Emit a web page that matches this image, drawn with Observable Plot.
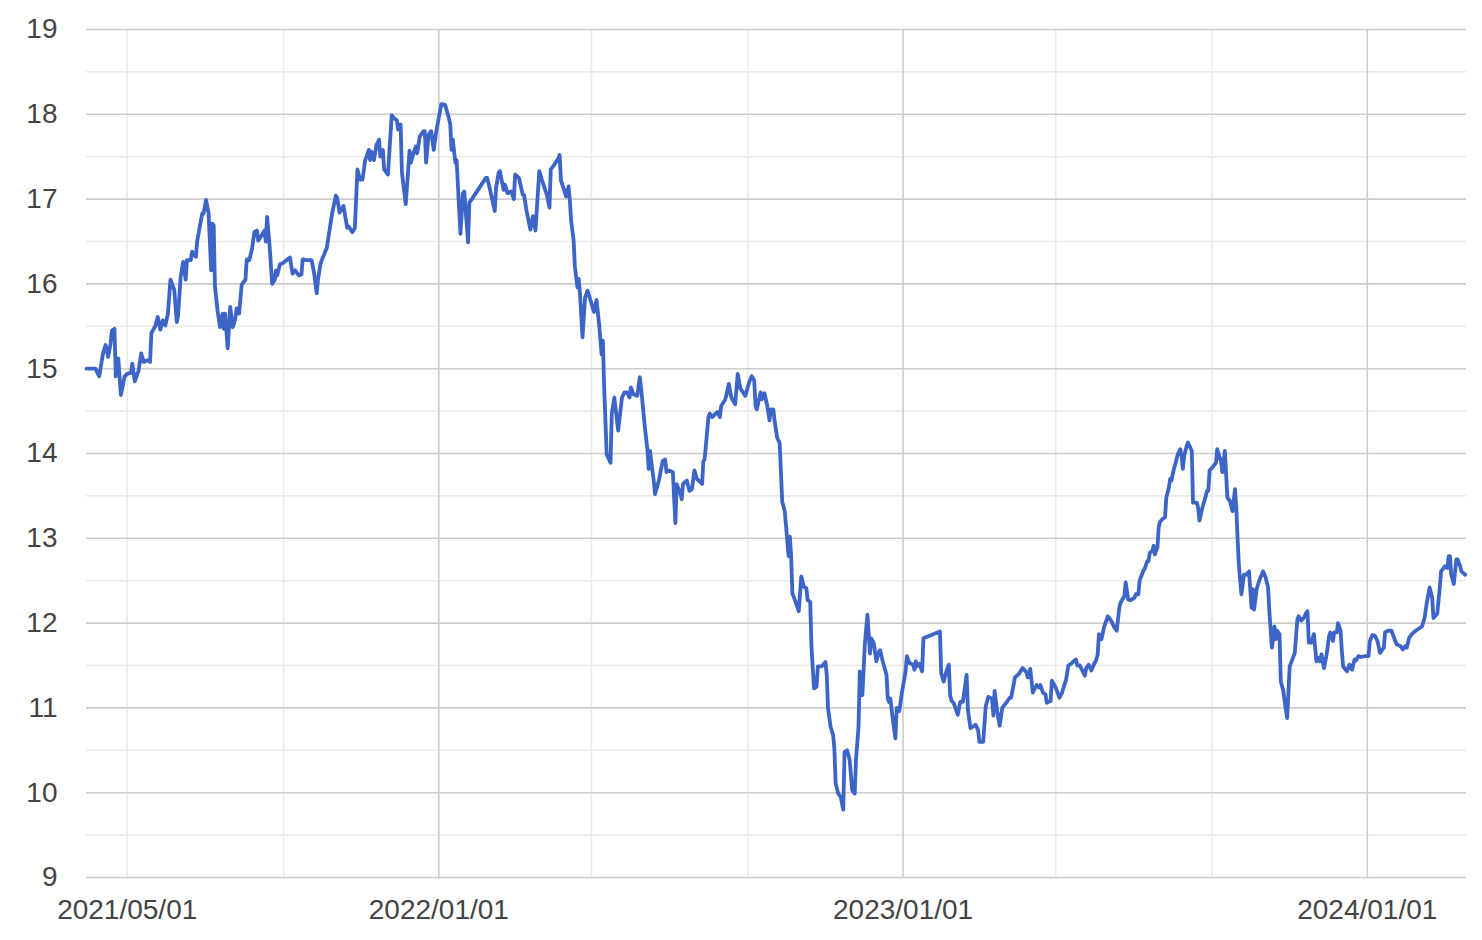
<!DOCTYPE html>
<html><head><meta charset="utf-8">
<script src="https://cdn.jsdelivr.net/npm/d3@7"></script>
<script src="https://cdn.jsdelivr.net/npm/@observablehq/plot@0.6"></script>
<style>body{margin:0;background:#fff} svg{display:block}</style>
</head><body><div id="chart"></div>
<script>
const dates = [
"2021-03-30","2021-04-06","2021-04-09","2021-04-12","2021-04-14","2021-04-16","2021-04-18","2021-04-19","2021-04-21","2021-04-22","2021-04-24","2021-04-26","2021-04-29",
"2021-05-01","2021-05-04","2021-05-05","2021-05-07","2021-05-10","2021-05-12","2021-05-14","2021-05-17","2021-05-19","2021-05-20","2021-05-23","2021-05-25","2021-05-27","2021-05-29","2021-05-31",
"2021-06-02","2021-06-04","2021-06-07","2021-06-09","2021-06-10","2021-06-12","2021-06-14","2021-06-16","2021-06-17","2021-06-20","2021-06-21","2021-06-24","2021-06-25","2021-06-27","2021-06-29","2021-06-30",
"2021-07-02","2021-07-04","2021-07-06","2021-07-07","2021-07-08","2021-07-09","2021-07-11","2021-07-13","2021-07-15","2021-07-16","2021-07-17","2021-07-19","2021-07-21","2021-07-23","2021-07-25","2021-07-26","2021-07-28","2021-07-30",
"2021-08-02","2021-08-03","2021-08-05","2021-08-07","2021-08-09","2021-08-11","2021-08-12","2021-08-15","2021-08-17","2021-08-18","2021-08-19","2021-08-21","2021-08-23","2021-08-25","2021-08-26","2021-08-27","2021-08-29","2021-08-31",
"2021-09-06","2021-09-08","2021-09-10","2021-09-13","2021-09-15","2021-09-16","2021-09-19","2021-09-23","2021-09-25","2021-09-27","2021-09-28","2021-09-30",
"2021-10-05","2021-10-06","2021-10-09","2021-10-12","2021-10-13","2021-10-15","2021-10-18","2021-10-21","2021-10-22","2021-10-25","2021-10-27","2021-10-29","2021-10-31",
"2021-11-02","2021-11-04","2021-11-07","2021-11-08","2021-11-09","2021-11-11","2021-11-13","2021-11-15","2021-11-16","2021-11-18","2021-11-19","2021-11-22","2021-11-24","2021-11-25","2021-11-27","2021-11-29","2021-11-30",
"2021-12-02","2021-12-03","2021-12-06","2021-12-09","2021-12-10","2021-12-12","2021-12-14","2021-12-15","2021-12-17","2021-12-20","2021-12-21","2021-12-22","2021-12-24","2021-12-26","2021-12-28","2021-12-30",
"2022-01-03","2022-01-06","2022-01-09","2022-01-10","2022-01-11","2022-01-12","2022-01-14","2022-01-15","2022-01-18","2022-01-20","2022-01-21","2022-01-24","2022-01-25","2022-01-27",
"2022-02-07","2022-02-08","2022-02-10","2022-02-14","2022-02-15","2022-02-17","2022-02-18","2022-02-21","2022-02-22","2022-02-24","2022-02-27",
"2022-03-01","2022-03-02","2022-03-05","2022-03-08","2022-03-09","2022-03-11","2022-03-14","2022-03-16","2022-03-18","2022-03-21","2022-03-23","2022-03-27","2022-03-29","2022-03-30",
"2022-04-02","2022-04-05","2022-04-06","2022-04-07","2022-04-09","2022-04-11","2022-04-13","2022-04-14","2022-04-15","2022-04-17","2022-04-18","2022-04-20","2022-04-21","2022-04-22","2022-04-24","2022-04-26","2022-04-28","2022-04-30",
"2022-05-03","2022-05-05","2022-05-07","2022-05-09","2022-05-10","2022-05-11","2022-05-13","2022-05-16","2022-05-17","2022-05-19","2022-05-22","2022-05-25","2022-05-27","2022-05-29","2022-05-31",
"2022-06-01","2022-06-03","2022-06-06","2022-06-08","2022-06-09","2022-06-12","2022-06-14","2022-06-15","2022-06-16","2022-06-19","2022-06-20","2022-06-23","2022-06-26","2022-06-28","2022-06-29",
"2022-07-01","2022-07-04","2022-07-06","2022-07-07","2022-07-10","2022-07-11","2022-07-12","2022-07-15","2022-07-17","2022-07-19","2022-07-21","2022-07-23","2022-07-27","2022-07-28","2022-07-29",
"2022-08-01","2022-08-02","2022-08-04","2022-08-08","2022-08-10","2022-08-11","2022-08-14","2022-08-15","2022-08-17","2022-08-19","2022-08-22","2022-08-24","2022-08-26","2022-08-30",
"2022-09-02","2022-09-04","2022-09-06","2022-09-07","2022-09-08","2022-09-11","2022-09-12","2022-09-14","2022-09-16","2022-09-18","2022-09-19","2022-09-21","2022-09-22","2022-09-24","2022-09-26","2022-09-28","2022-09-30",
"2022-10-03","2022-10-04","2022-10-05","2022-10-06","2022-10-09","2022-10-11","2022-10-13","2022-10-15","2022-10-17","2022-10-18","2022-10-20","2022-10-21","2022-10-23","2022-10-25","2022-10-26","2022-10-29",
"2022-11-01","2022-11-02","2022-11-03","2022-11-05","2022-11-07","2022-11-08","2022-11-09","2022-11-11","2022-11-13","2022-11-15","2022-11-16","2022-11-18","2022-11-20","2022-11-22","2022-11-24","2022-11-25","2022-11-27","2022-11-28","2022-11-30",
"2022-12-02","2022-12-04","2022-12-06","2022-12-07","2022-12-09","2022-12-11","2022-12-13","2022-12-14","2022-12-16","2022-12-19","2022-12-20","2022-12-21","2022-12-22","2022-12-24","2022-12-26","2022-12-27","2022-12-29","2022-12-31",
"2023-01-03","2023-01-04","2023-01-06","2023-01-09","2023-01-10","2023-01-11","2023-01-12","2023-01-14","2023-01-16","2023-01-17","2023-01-30","2023-01-31",
"2023-02-02","2023-02-04","2023-02-06","2023-02-07","2023-02-08","2023-02-10","2023-02-13","2023-02-15","2023-02-17","2023-02-20","2023-02-21","2023-02-23","2023-02-27",
"2023-03-01","2023-03-02","2023-03-05","2023-03-07","2023-03-09","2023-03-12","2023-03-13","2023-03-14","2023-03-16","2023-03-17","2023-03-18","2023-03-20","2023-03-23","2023-03-26","2023-03-27","2023-03-30",
"2023-04-02","2023-04-05","2023-04-08","2023-04-09","2023-04-11","2023-04-13","2023-04-16","2023-04-18","2023-04-19","2023-04-21","2023-04-23","2023-04-24","2023-04-27","2023-04-28",
"2023-05-01","2023-05-04","2023-05-06","2023-05-08","2023-05-09","2023-05-11","2023-05-14","2023-05-15","2023-05-17","2023-05-18","2023-05-20","2023-05-22","2023-05-24","2023-05-25","2023-05-27","2023-05-29","2023-05-31",
"2023-06-02","2023-06-03","2023-06-04","2023-06-06","2023-06-08","2023-06-11","2023-06-14","2023-06-16","2023-06-18","2023-06-20","2023-06-21","2023-06-24","2023-06-25","2023-06-27","2023-06-29",
"2023-07-02","2023-07-03","2023-07-05","2023-07-06","2023-07-09","2023-07-10","2023-07-12","2023-07-13","2023-07-14","2023-07-16","2023-07-17","2023-07-18","2023-07-20","2023-07-21","2023-07-22","2023-07-24","2023-07-26","2023-07-27","2023-07-29","2023-07-30","2023-07-31",
"2023-08-02","2023-08-03","2023-08-05","2023-08-07","2023-08-08","2023-08-09","2023-08-10","2023-08-12","2023-08-13","2023-08-16","2023-08-17","2023-08-20","2023-08-21","2023-08-22","2023-08-24","2023-08-27","2023-08-28","2023-08-29","2023-08-30",
"2023-09-02","2023-09-04","2023-09-05","2023-09-07","2023-09-08","2023-09-09","2023-09-11","2023-09-13","2023-09-15","2023-09-17","2023-09-19","2023-09-20","2023-09-21","2023-09-22","2023-09-24","2023-09-26","2023-09-28","2023-09-30",
"2023-10-02","2023-10-03","2023-10-04","2023-10-06","2023-10-08","2023-10-11","2023-10-13","2023-10-15","2023-10-16","2023-10-18","2023-10-20","2023-10-21","2023-10-22","2023-10-24","2023-10-25","2023-10-27","2023-10-28","2023-10-30",
"2023-11-01","2023-11-03","2023-11-05","2023-11-07","2023-11-08","2023-11-10","2023-11-12","2023-11-14","2023-11-15","2023-11-16","2023-11-18","2023-11-20","2023-11-22","2023-11-24","2023-11-25","2023-11-26","2023-11-28","2023-11-30",
"2023-12-02","2023-12-03","2023-12-05","2023-12-06","2023-12-08","2023-12-09","2023-12-11","2023-12-12","2023-12-13","2023-12-16","2023-12-18","2023-12-20","2023-12-22","2023-12-23","2023-12-25","2023-12-27","2023-12-30",
"2024-01-02","2024-01-03","2024-01-05","2024-01-07","2024-01-09","2024-01-11","2024-01-12","2024-01-14","2024-01-15","2024-01-17","2024-01-20","2024-01-22","2024-01-24","2024-01-27","2024-01-29","2024-01-31",
"2024-02-01","2024-02-03","2024-02-05","2024-02-08","2024-02-13","2024-02-15","2024-02-17","2024-02-19","2024-02-21","2024-02-22","2024-02-25","2024-02-27","2024-02-28",
"2024-03-02","2024-03-04","2024-03-05","2024-03-06","2024-03-07","2024-03-09","2024-03-11","2024-03-12","2024-03-14","2024-03-15","2024-03-18"
];
const prices = [
15.00,15.00,14.91,15.18,15.28,15.14,15.30,15.45,15.47,14.91,15.12,14.69,14.91,
14.94,14.95,15.06,14.85,14.98,15.18,15.08,15.10,15.08,15.42,15.50,15.61,15.46,15.57,15.51,
15.65,16.05,15.93,15.55,15.63,16.08,16.26,16.05,16.28,16.28,16.38,16.32,16.50,16.67,16.83,16.83,
16.99,16.83,16.16,16.71,16.69,15.97,15.69,15.49,15.65,15.47,15.65,15.24,15.73,15.49,15.59,15.71,15.65,15.99,
16.05,16.29,16.28,16.40,16.61,16.63,16.51,16.58,16.63,16.50,16.79,16.44,16.00,16.05,16.16,16.10,16.23,16.24,
16.31,16.12,16.16,16.10,16.11,16.29,16.28,16.28,16.12,15.89,16.05,16.24,
16.43,16.53,16.82,17.04,17.02,16.84,16.92,16.66,16.68,16.61,16.66,17.35,17.23,
17.23,17.45,17.58,17.46,17.56,17.46,17.64,17.70,17.50,17.58,17.35,17.29,17.76,17.99,17.95,17.93,17.82,
17.88,17.31,16.94,17.57,17.43,17.54,17.62,17.54,17.74,17.80,17.80,17.43,17.76,17.80,17.58,17.80,
18.12,18.11,17.95,17.88,17.58,17.70,17.43,17.46,16.59,17.07,17.09,16.49,16.96,17.00,
17.25,17.25,17.13,16.86,17.13,17.31,17.33,17.11,17.17,17.07,17.09,
17.00,17.29,17.25,17.05,17.05,16.86,16.64,16.80,16.63,17.33,17.23,17.05,16.90,17.35,
17.41,17.48,17.52,17.22,17.13,17.03,17.15,16.99,16.75,16.51,16.20,15.96,16.06,15.88,15.37,15.84,15.92,15.82,
15.67,15.81,15.53,15.17,15.33,14.78,13.99,13.89,14.47,14.66,14.27,14.66,14.72,14.72,14.66,
14.78,14.70,14.68,14.90,14.78,14.31,14.05,13.82,14.03,13.68,13.52,13.68,13.91,13.93,13.78,
13.80,13.78,13.18,13.64,13.52,13.46,13.64,13.68,13.56,13.58,13.80,13.70,13.64,13.91,13.93,
14.43,14.47,14.43,14.49,14.43,14.56,14.63,14.68,14.82,14.66,14.58,14.94,14.77,14.68,
14.84,14.91,14.86,14.56,14.52,14.72,14.64,14.71,14.58,14.39,14.52,14.52,14.39,14.19,14.12,13.43,13.32,
12.79,13.02,12.79,12.35,12.23,12.14,12.55,12.43,12.41,12.27,12.25,11.72,11.23,11.25,11.49,11.49,
11.54,11.39,11.00,10.78,10.68,10.52,10.11,9.99,9.95,9.80,10.48,10.50,10.39,10.03,9.99,10.39,10.78,11.43,11.15,
11.76,12.10,11.64,11.82,11.76,11.55,11.66,11.68,11.55,11.39,11.11,11.07,11.11,10.86,10.64,11.00,10.96,11.17,
11.43,11.61,11.53,11.51,11.45,11.55,11.49,11.52,11.43,11.82,11.90,11.41,
11.31,11.43,11.51,11.15,11.09,11.05,10.92,11.07,11.07,11.39,10.98,10.76,10.80,
10.74,10.60,10.60,11.02,11.13,11.11,10.91,11.20,10.96,10.87,10.79,11.00,11.06,11.12,11.12,11.36,
11.40,11.47,11.42,11.36,11.46,11.18,11.27,11.24,11.27,11.18,11.16,11.06,11.08,11.32,
11.24,11.12,11.18,11.28,11.32,11.50,11.53,11.55,11.57,11.50,11.50,11.44,11.38,11.47,11.51,11.44,11.51,
11.57,11.63,11.87,11.81,11.95,12.08,12.02,11.95,11.91,12.18,12.24,12.32,12.48,12.28,12.27,
12.30,12.34,12.34,12.50,12.62,12.64,12.73,12.73,12.83,12.85,12.91,12.81,12.89,13.13,13.19,13.23,13.25,13.48,13.60,13.70,13.68,
13.82,13.87,13.99,14.05,13.97,13.82,13.97,14.09,14.13,14.03,13.42,13.42,13.36,13.21,13.34,13.50,13.56,13.56,13.80,
13.85,13.89,14.05,13.95,13.91,13.78,14.03,13.48,13.44,13.32,13.58,13.36,13.01,12.69,12.34,12.57,12.57,12.61,
12.18,12.40,12.16,12.40,12.50,12.61,12.54,12.42,12.14,11.71,11.96,11.81,11.91,11.87,11.31,11.20,11.08,10.88,
11.49,11.57,11.65,12.04,12.08,12.03,12.06,12.12,12.14,11.77,11.77,11.87,11.55,11.59,11.55,11.63,11.47,11.63,
11.85,11.89,11.79,11.89,11.89,12.00,11.91,11.67,11.49,11.43,11.51,11.45,11.57,11.56,11.61,11.60,11.61,
11.61,11.79,11.86,11.85,11.79,11.65,11.67,11.71,11.89,11.91,11.91,11.83,11.75,11.73,11.69,11.73,
11.71,11.83,11.87,11.91,11.96,12.06,12.26,12.42,12.30,12.06,12.11,12.42,12.61,
12.67,12.65,12.79,12.79,12.57,12.46,12.75,12.75,12.67,12.61,12.57
];
const yMajorTicks = [9, 10, 11, 12, 13, 14, 15, 16, 17, 18, 19];
const yMinorTicks = [9.5, 10.5, 11.5, 12.5, 13.5, 14.5, 15.5, 16.5, 17.5, 18.5];
const xLabelTicks = ["2021-05-01", "2022-01-01", "2023-01-01", "2024-01-01"];
const xMajorGrid = ["2022-01-01", "2023-01-01", "2024-01-01"];
const xMinorGrid = ["2021-05-01", "2021-09-01", "2022-05-01", "2022-09-01", "2023-05-01", "2023-09-01"];
const xDomain = ["2021-03-30", "2024-03-19"];
const yDomain = [9, 19];

const parse = d3.utcParse("%Y-%m-%d");
const data = dates.map((d, i) => ({date: parse(d), value: prices[i]}));

const chart = Plot.plot({
  width: 1482,
  height: 940,
  marginLeft: 86,
  marginRight: 16,
  marginTop: 29,
  marginBottom: 63,
  style: {fontFamily: "Arial, 'Liberation Sans', sans-serif", fontSize: "28px", color: "#444", background: "#fff"},
  x: {type: "utc", domain: xDomain.map(parse), label: null},
  y: {domain: yDomain, label: null},
  marks: [
    Plot.ruleY(yMinorTicks, {stroke: "#ebebeb", strokeWidth: 1.6}),
    Plot.ruleX(xMinorGrid.map(parse), {stroke: "#ebebeb", strokeWidth: 1.6}),
    Plot.ruleY(yMajorTicks, {stroke: "#cccccc", strokeWidth: 1.6}),
    Plot.ruleX(xMajorGrid.map(parse), {stroke: "#cccccc", strokeWidth: 1.6}),
    Plot.axisY(yMajorTicks, {tickSize: 0, tickPadding: 29, fontSize: 28, fill: "#444", label: null, tickFormat: d => String(d)}),
    Plot.axisX(xLabelTicks.map(parse), {tickSize: 0, tickPadding: 22, fontSize: 28, fill: "#444", label: null, tickFormat: d3.utcFormat("%Y/%m/%d")}),
    Plot.line(data, {x: "date", y: "value", stroke: "#3d64c7", strokeWidth: 3.8, strokeLinejoin: "round"})
  ]
});
document.getElementById("chart").appendChild(chart);
</script>
</body></html>
